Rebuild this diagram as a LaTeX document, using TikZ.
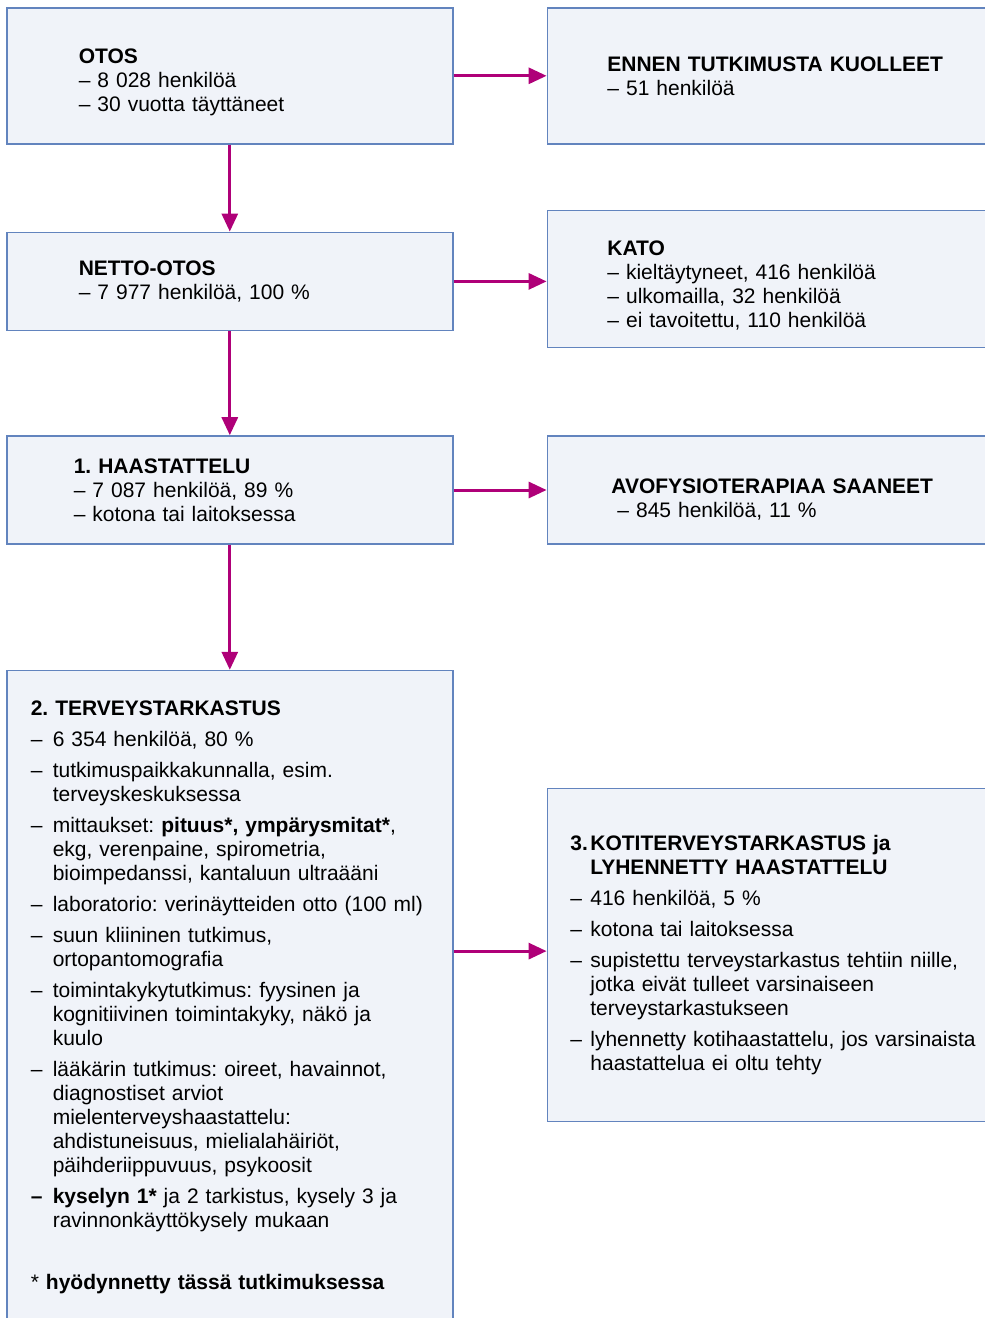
\documentclass[tikz,border=0pt]{standalone}
\usepackage{fontspec}
\setmainfont{Liberation Sans}
\usetikzlibrary{positioning,arrows.meta}
\definecolor{boxline}{RGB}{98,132,190}
\definecolor{boxfill}{RGB}{240,243,249}
\definecolor{flowc}{RGB}{175,0,120}
\setlength{\parindent}{0pt}
\frenchspacing
\newcommand{\nl}{\hfil\break}
\newcommand{\padleft}[1]{\leftskip=#1\relax\rightskip=0pt plus 1fil\relax}
\newcommand{\dashitem}[2][11pt]{\par\vspace{3.5pt}\noindent\hangindent=#1\hangafter=1\makebox[#1][l]{#2}}
\begin{document}
\begin{tikzpicture}[font=\fontsize{10.5}{12}\selectfont,
				box/.style={draw=boxline,fill=boxfill,line width=0.8pt,inner xsep=2pt},
				leftbox/.style={box,text width=219pt},
				rightbox/.style={box,text width=236pt},
				flow/.style={draw=flowc,line width=1.5pt,-{Triangle[length=9pt,width=8pt]}}]
\useasboundingbox (0,0) rectangle (492.5pt,-659pt);
\node[leftbox,minimum height=68pt,anchor=north west] (otos) at (3pt,-3.5pt)
	{\padleft{34pt}\rule{0pt}{14pt}\textbf{OTOS}\nl– 8 028 henkilöä\nl– 30 vuotta täyttäneet\par};
\node[rightbox,minimum height=68pt,right=46.5pt of otos.north east,anchor=north west] (ennen)
	{\padleft{28pt}\textbf{ENNEN TUTKIMUSTA KUOLLEET}\nl– 51 henkilöä\par};
\node[leftbox,minimum height=49pt,below=43.5pt of otos] (netto)
	{\padleft{34pt}\textbf{NETTO-OTOS}\nl– 7 977 henkilöä, 100~\%\par};
\node[rightbox,minimum height=68.5pt,right=46.5pt of netto.north east,anchor=north west,yshift=11pt] (kato)
	{\padleft{28pt}\rule{0pt}{14pt}\textbf{KATO}\nl– kieltäytyneet, 416 henkilöä\nl– ulkomailla, 32 henkilöä\nl– ei tavoitettu, 110 henkilöä\par};
\node[leftbox,minimum height=54pt,below=52pt of netto] (haast)
	{\padleft{31.5pt}\textbf{1. HAASTATTELU}\nl– 7 087 henkilöä, 89~\%\nl– kotona tai laitoksessa\par};
\node[rightbox,minimum height=54pt,right=46.5pt of haast.north east,anchor=north west] (avo)
	{\padleft{30pt}\rule{0pt}{17pt}\textbf{AVOFYSIOTERAPIAA SAANEET}\nl\hspace*{3pt}– 845 henkilöä, 11~\%\par};
\node[leftbox,inner ysep=15pt,below=62.5pt of haast] (terv)
	{\padleft{10pt}\textbf{2. TERVEYSTARKASTUS}
	\dashitem{–}6 354 henkilöä, 80~\%
	\dashitem{–}tutkimuspaikkakunnalla, esim.\nl terveyskeskuksessa
	\dashitem{–}mittaukset: \textbf{pituus*, ympärysmitat*},\nl ekg, verenpaine, spirometria,\nl bioimpedanssi, kantaluun ultraääni
	\dashitem{–}laboratorio: verinäytteiden otto (100 ml)
	\dashitem{–}suun kliininen tutkimus,\nl ortopantomografia
	\dashitem{–}toimintakykytutkimus: fyysinen ja\nl kognitiivinen toimintakyky, näkö ja\nl kuulo
	\dashitem{–}lääkärin tutkimus: oireet, havainnot,\nl diagnostiset arviot\nl mielenterveyshaastattelu:\nl ahdistuneisuus, mielialahäiriöt,\nl päihderiippuvuus, psykoosit
	\dashitem{\textbf{–}}\textbf{kyselyn 1*} ja 2 tarkistus, kysely 3 ja\nl ravinnonkäyttökysely mukaan
	\par\vspace{19pt}\noindent* \textbf{hyödynnetty tässä tutkimuksessa}\par\vspace{30pt}};
\node[rightbox,minimum height=166.5pt,right=46.5pt of terv.north east,anchor=north west,yshift=-59pt] (koti)
	{\padleft{9.5pt}\noindent\hangindent=10pt\hangafter=1\makebox[10pt][l]{\textbf{3.}}\textbf{KOTITERVEYSTARKASTUS ja}\nl\textbf{LYHENNETTY HAASTATTELU}
	\dashitem[10pt]{–}416 henkilöä, 5~\%
	\dashitem[10pt]{–}kotona tai laitoksessa
	\dashitem[10pt]{–}supistettu terveystarkastus tehtiin niille,\nl jotka eivät tulleet varsinaiseen\nl terveystarkastukseen
	\dashitem[10pt]{–}lyhennetty kotihaastattelu, jos varsinaista\nl haastattelua ei oltu tehty\par};
\draw[flow] (otos) -- (ennen);
\draw[flow] (otos) -- (netto);
\draw[flow] (netto.east) -- (netto.east -| kato.west);
\draw[flow] (netto) -- (haast);
\draw[flow] (haast) -- (avo);
\draw[flow] (haast) -- (terv);
\draw[flow] ([yshift=2pt]koti.west -| terv.east) -- ([yshift=2pt]koti.west);
\end{tikzpicture}
\end{document}
